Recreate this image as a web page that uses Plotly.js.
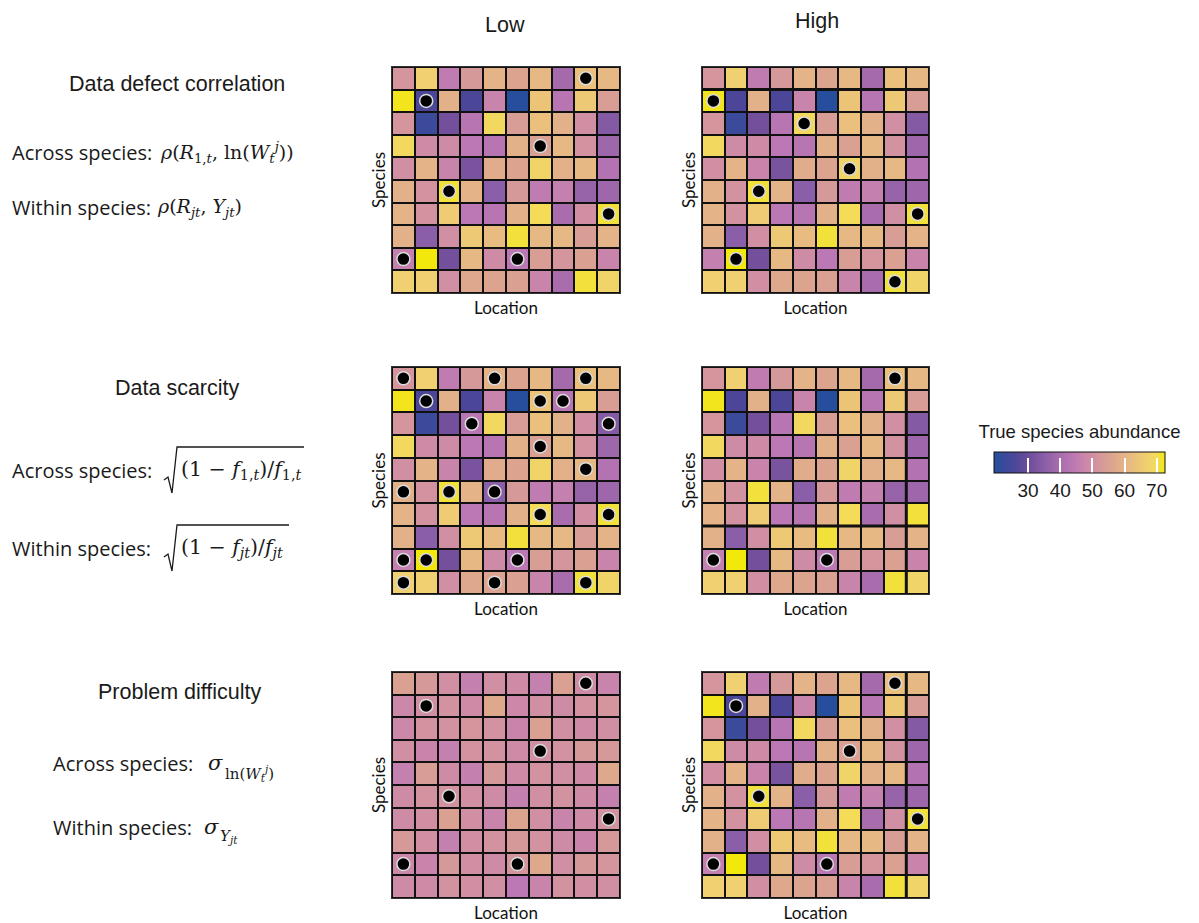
<!DOCTYPE html>
<html>
<head>
<meta charset="utf-8">
<script src="https://cdn.plot.ly/plotly-3.0.1.min.js"></script>
<style>html,body{margin:0;padding:0;background:#fff;}#chart{width:1199px;height:923px;}</style>
</head>
<body>
<div id="chart"></div>
<script>
// ---------------- DATA ----------------
const locationIdx = [0,1,2,3,4,5,6,7,8,9];
const speciesIdx  = [0,1,2,3,4,5,6,7,8,9];

// True species abundance (rows = species top->bottom, cols = locations)
const abundance = [
  [52,67,45,53,60,56,61,39,63,61],
  [72,26,59,26,47,20,64,43,65,54],
  [52,23,31,43,69,54,63,59,50,34],
  [69,49,49,44,43,59,55,61,51,38],
  [50,60,47,32,58,56,68,59,61,42],
  [59,51,71,60,35,53,45,46,37,38],
  [60,51,66,44,43,59,70,40,50,71],
  [59,35,50,65,62,71,61,61,54,60],
  [46,73,31,61,49,44,54,52,55,47],
  [67,67,50,57,56,55,47,40,71,68]
];
// Low problem difficulty: compressed abundance
const abundanceLowDifficulty = [
  [55,53,50,46,50,49,46,55,49,47],
  [48,50,51,49,57,48,50,49,51,52],
  [48,51,51,52,51,47,55,50,49,50],
  [50,47,46,51,51,49,50,51,53,53],
  [46,54,49,46,53,49,51,50,49,57],
  [49,51,51,50,49,46,50,51,49,46],
  [49,50,55,50,47,56,50,47,49,51],
  [53,50,46,50,51,53,51,49,47,53],
  [48,47,53,50,49,52,57,50,53,52],
  [49,49,51,50,50,44,47,51,50,50]
];

// Observed (sampled) cells: species row & location column
const dcLowRows   = [0,1,3,5,6,8,8];
const dcLowCols   = [8,1,6,2,9,0,5];
const dcHighRows  = [1,2,4,5,6,8,9];
const dcHighCols  = [0,4,6,2,9,1,8];
const dsLowRows   = [0,0,0,1,1,1,2,2,3,4,5,5,5,6,6,8,8,8,9,9,9];
const dsLowCols   = [0,4,8,1,6,7,3,9,6,8,0,2,4,6,9,0,1,5,0,4,8];
const dsHighRows  = [0,8,8];
const dsHighCols  = [8,0,5];
const pdLowRows   = [0,1,3,5,6,8,8];
const pdLowCols   = [8,1,6,2,9,0,5];
const pdHighRows  = [0,1,3,5,6,8,8];
const pdHighCols  = [8,1,6,2,9,0,5];

const colTitles = ["Low", "High"];
const rowTitles = ["Data defect correlation", "Data scarcity", "Problem difficulty"];
const cbTicks = [30,40,50,60,70];

// ---------------- STYLE ----------------
const W = 1199, H = 923;
const px = v => v / W;
const py = v => 1 - v / H;
const ZMIN = 19.4, ZMAX = 72.6;
const cscale = [
  [0.000,'#234f9c'],[0.068,'#3c4a9c'],[0.124,'#4c4698'],[0.218,'#744f9c'],
  [0.293,'#8a5ea8'],[0.368,'#a46aac'],[0.462,'#bc78b4'],[0.538,'#cc88a8'],
  [0.613,'#d4969c'],[0.688,'#dca48e'],[0.763,'#e4b488'],[0.838,'#ecc478'],
  [0.895,'#f0d070'],[0.951,'#f4dc58'],[1.000,'#f2e80c']
];

const xDom = [[px(392),px(620)],[px(702),px(929)]];
const yDom = [[py(293),py(67)],[py(594),py(367)],[py(898),py(672)]];

const panels = [
  {z: abundance, r: dcLowRows, c: dcLowCols},
  {z: abundance, r: dcHighRows, c: dcHighCols},
  {z: abundance, r: dsLowRows, c: dsLowCols},
  {z: abundance, r: dsHighRows, c: dsHighCols},
  {z: abundanceLowDifficulty, r: pdLowRows, c: pdLowCols},
  {z: abundance, r: pdHighRows, c: pdHighCols}
];

const traces = [];
const layout = {
  width: W, height: H,
  margin: {l:0, r:0, t:0, b:0},
  paper_bgcolor: '#ffffff',
  plot_bgcolor: '#111111',
  showlegend: false,
  font: {family: 'Liberation Sans, Arial, sans-serif', color: '#1a1a1a'},
  annotations: [],
  shapes: []
};

panels.forEach((p, i) => {
  const n = i + 1;
  const xa = n === 1 ? 'x' : 'x' + n;
  const ya = n === 1 ? 'y' : 'y' + n;
  traces.push({
    type: 'heatmap', x: locationIdx, y: speciesIdx, z: p.z,
    xaxis: xa, yaxis: ya,
    zmin: ZMIN, zmax: ZMAX, colorscale: cscale,
    xgap: 2, ygap: 2,
    showscale: i === 3,
    colorbar: {
      orientation: 'h',
      x: px(1079.5), xanchor: 'center',
      y: py(431), yanchor: 'top',
      len: 171, lenmode: 'pixels',
      thickness: 21, thicknessmode: 'pixels',
      xpad: 0, ypad: 0,
      outlinewidth: 1, outlinecolor: '#111',
      tickvals: cbTicks, ticks: 'inside', ticklen: 15, tickwidth: 2, tickcolor: '#ffffff',
      tickfont: {size: 19, color: '#1a1a1a', family: 'Liberation Sans, Arial, sans-serif'},
      title: {text: 'True species abundance', side: 'top',
              font: {size: 18.5, color: '#1a1a1a', family: 'Liberation Sans, Arial, sans-serif'}}
    },
    hoverinfo: 'skip'
  });
  traces.push({
    type: 'scatter', mode: 'markers', x: p.c, y: p.r,
    xaxis: xa, yaxis: ya,
    marker: {size: 13, color: '#000000', line: {color: '#dcdcdc', width: 1.5}},
    hoverinfo: 'skip'
  });
  const col = i % 2, row = Math.floor(i / 2);
  const axBase = {showticklabels: false, ticks: '', showgrid: false, zeroline: false,
                  showline: true, mirror: true, linecolor: '#333', linewidth: 1.2, fixedrange: true};
  layout['xaxis' + (n === 1 ? '' : n)] = Object.assign({}, axBase, {
    domain: xDom[col], range: [-0.5, 9.5], anchor: ya,
    title: {text: 'Location', standoff: 8, font: {family: 'Lato, sans-serif', size: 17, color: '#111'}}
  });
  layout['yaxis' + (n === 1 ? '' : n)] = Object.assign({}, axBase, {
    domain: yDom[row], range: [9.5, -0.5], anchor: xa,
    title: {text: 'Species', standoff: 0, font: {family: 'Lato, sans-serif', size: 17, color: '#111'}}
  });
});

// thicker grid artefacts seen in reference
const thick = {color: '#111', width: 3};
layout.shapes.push({type:'line', xref:'x2', yref:'y2', x0:-0.5, x1:9.5, y0:0.5, y1:0.5, line:thick});
layout.shapes.push({type:'line', xref:'x4', yref:'y4', x0:8.5, x1:8.5, y0:-0.5, y1:9.5, line:thick});
layout.shapes.push({type:'line', xref:'x4', yref:'y4', x0:-0.5, x1:9.5, y0:6.5, y1:6.5, line:thick});
layout.shapes.push({type:'line', xref:'x6', yref:'y6', x0:8.5, x1:8.5, y0:-0.5, y1:9.5, line:thick});

// radicals for data scarcity
const radLine = {color: '#1a1a1a', width: 1.3};
function radical(x0, yHook, yBot, yTop, xEnd) {
  return {type: 'path', xref: 'paper', yref: 'paper', line: radLine,
    path: `M ${px(x0)} ${py(yHook)} L ${px(x0+4)} ${py(yHook-3)} L ${px(x0+8)} ${py(yBot)} L ${px(x0+13)} ${py(yTop)} L ${px(xEnd)} ${py(yTop)}`};
}
layout.shapes.push(radical(164, 480, 493, 447, 304));
layout.shapes.push(radical(164, 557, 571, 525, 289));

// text annotations
const sans = 'Liberation Sans, Arial, sans-serif';
const label = 'Open Sans, sans-serif';
const serif = 'DejaVu Serif, serif';
function ann(text, x, y, size, family, xanchor) {
  layout.annotations.push({text, xref: 'paper', yref: 'paper', x: px(x), y: py(y),
    xanchor: xanchor || 'left', yanchor: 'middle', showarrow: false,
    font: {size, family, color: '#1a1a1a'}});
}
ann(colTitles[0], 505, 25, 21.5, sans, 'center');
ann(colTitles[1], 817, 21, 21.5, sans, 'center');
ann(rowTitles[0], 177, 84, 21.5, sans, 'center');
ann(rowTitles[1], 177, 388, 21.5, sans, 'center');
ann(rowTitles[2], 180, 692, 21.5, sans, 'center');

ann('Across species:', 10, 153, 20, label);
ann('<i>ρ</i>(<i>R</i><sub>1,<i>t</i></sub>, ln(<i>W</i><sub><i>t</i></sub><sup><i>j</i></sup>))', 158, 153, 19, serif);
ann('Within species:', 10, 207, 20, label);
ann('<i>ρ</i>(<i>R</i><sub><i>jt</i></sub>, <i>Y</i><sub><i>jt</i></sub>)', 155, 207, 19, serif);

ann('Across species:', 10, 470, 20, label);
ann('(1 − <i>f</i><sub>1,<i>t</i></sub>)/<i>f</i><sub>1,<i>t</i></sub>', 179, 470, 20.5, serif);
ann('Within species:', 10, 548, 20, label);
ann('(1 − <i>f</i><sub><i>jt</i></sub>)/<i>f</i><sub><i>jt</i></sub>', 179, 548, 20.5, serif);

ann('Across species:', 51, 763, 20, label);
ann('<i>σ</i>', 206, 763, 21, serif);
ann('ln(<i>W</i><sub><i>t</i></sub><sup><i>j</i></sup>)', 223, 773, 15, serif);
ann('Within species:', 51, 827, 20, label);
ann('<i>σ</i>', 202, 827, 21, serif);
ann('<i>Y</i><sub><i>jt</i></sub>', 218, 836, 15, serif);

Plotly.newPlot('chart', traces, layout, {displayModeBar: false, staticPlot: true});
</script>
</body>
</html>
